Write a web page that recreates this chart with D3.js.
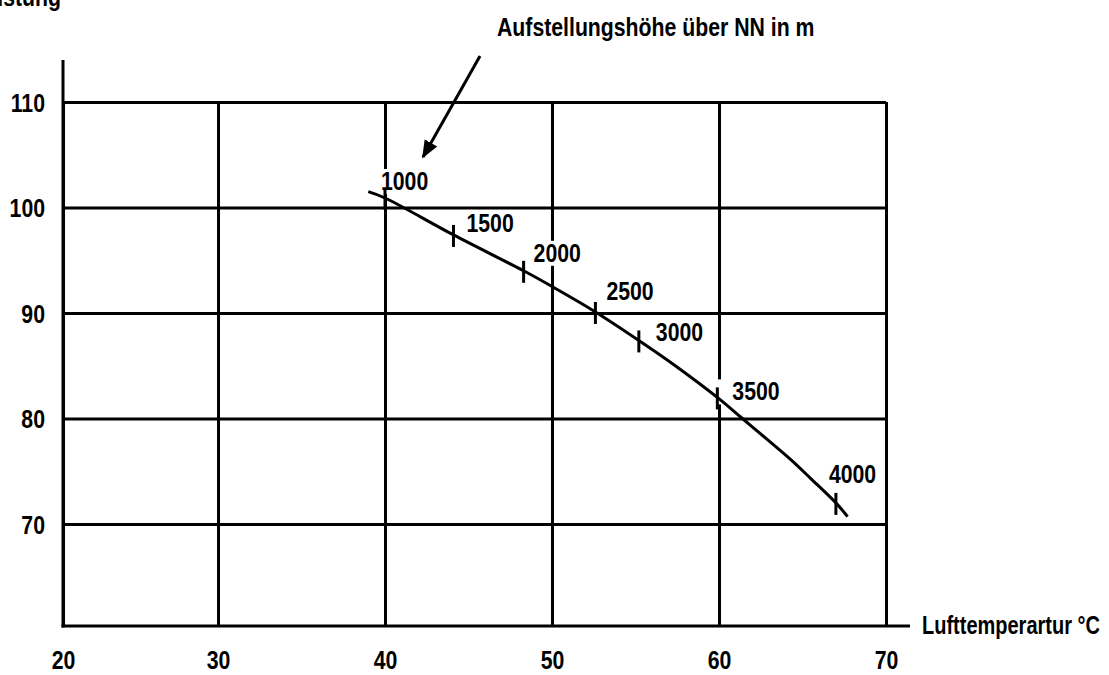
<!DOCTYPE html>
<html>
<head>
<meta charset="utf-8">
<script src="https://cdn.jsdelivr.net/npm/d3@7"></script>
<style>
  body { margin: 0; background: #fff; }
  svg { display: block; }
  text { font-family: 'Liberation Sans', Arial, sans-serif; font-size: 25px; font-weight: bold; fill: #000; }
</style>
</head>
<body>
<div id="chart"></div>
<script>
// Leistung (%) over Lufttemperatur (°C), markers for Aufstellungshöhe
var tempTicks = [20, 30, 40, 50, 60, 70];
var leistungTicks = [70, 80, 90, 100, 110];

var curveTemp = [39.0, 40.0, 44.1, 48.3, 49.9, 52.6, 55.2, 57.3, 59.9, 61.4, 62.9, 64.3, 65.5, 67.0, 67.7];
var curveLeistung = [101.5, 100.9, 97.4, 94.0, 92.6, 90.1, 87.4, 85.1, 82.0, 80.0, 78.0, 76.1, 74.3, 72.0, 70.7];

var altitudes = [1000, 1500, 2000, 2500, 3000, 3500, 4000];
var altTemp = [40.0, 44.1, 48.3, 52.6, 55.2, 59.9, 67.0];
var altLeistung = [100.9, 97.4, 94.0, 90.1, 87.4, 82.0, 72.0];

var width = 1109, height = 675;
var plotLeft = 63, plotBottom = 626, plotTop = 102, axisTop = 60, axisRight = 910;
var lw = 3;
var narrow = 0.85; // no condensed font installed, squeeze Liberation Sans instead

// label placement relative to each marker
var labelDx = [-4, 13, 10, 11, 17, 15, -7];
var labelDy = [-8, -3, -9, -12, 1, 3, -20];

var x = d3.scaleLinear().domain([20, 30, 70]).range([plotLeft, 218, 886]);
var y = d3.scaleLinear().domain([60, 70, 110]).range([plotBottom, 524, plotTop]);

var svg = d3.select('#chart').append('svg')
	.attr('width', width)
	.attr('height', height);

// move x/y into a transform so the glyphs can be squeezed around their anchor
var condense = function (sel, k) {
	k = k || narrow;
	sel.each(function () {
		var t = d3.select(this);
		var tx = +t.attr('x') || 0, ty = +t.attr('y') || 0;
		t.attr('x', 0).attr('y', 0)
			.attr('transform', 'translate(' + tx + ',' + ty + ') scale(' + k + ',1)');
	});
};

// vertical grid + bottom tick labels
var xAxis = svg.append('g')
	.attr('transform', 'translate(0,' + plotBottom + ')')
	.call(d3.axisBottom(x)
		.tickValues(tempTicks)
		.tickFormat(d3.format('d'))
		.tickSize(-(plotBottom - plotTop))
		.tickPadding(25));
xAxis.select('.domain').remove();
xAxis.selectAll('.tick line').attr('stroke', '#000').attr('stroke-width', lw);
xAxis.selectAll('.tick text').attr('font-size', null).attr('font-family', null).call(condense);

// horizontal grid + left tick labels
var yAxis = svg.append('g')
	.attr('transform', 'translate(' + plotLeft + ',0)')
	.call(d3.axisLeft(y)
		.tickValues(leistungTicks)
		.tickSize(-(x(70) - plotLeft))
		.tickPadding(18));
yAxis.select('.domain').remove();
yAxis.selectAll('.tick line').attr('stroke', '#000').attr('stroke-width', lw);
yAxis.selectAll('.tick text').attr('font-size', null).attr('font-family', null).attr('dy', '0.36em').call(condense);

// axis lines
svg.append('line')
	.attr('x1', plotLeft).attr('y1', axisTop)
	.attr('x2', plotLeft).attr('y2', plotBottom + lw / 2)
	.attr('stroke', '#000').attr('stroke-width', lw);
svg.append('line')
	.attr('x1', plotLeft - lw / 2).attr('y1', plotBottom)
	.attr('x2', axisRight).attr('y2', plotBottom)
	.attr('stroke', '#000').attr('stroke-width', lw);

// marker labels (white box behind them cuts the grid)
var markers = altitudes.map(function (a, i) {
	return {alt: a, t: altTemp[i], v: altLeistung[i], dx: labelDx[i], dy: labelDy[i]};
});

var bgLayer = svg.append('g');
var curveLayer = svg.append('g');
var labelLayer = svg.append('g');

var labels = labelLayer.selectAll('text.alt')
	.data(markers)
	.enter().append('text')
	.classed('alt', true)
	.attr('x', function (d) { return x(d.t) + d.dx; })
	.attr('y', function (d) { return y(d.v) + d.dy; })
	.text(function (d) { return d.alt; })
	.call(condense);

labels.each(function (d) {
	var b = this.getBBox();
	var bx = x(d.t) + d.dx, by = y(d.v) + d.dy;
	bgLayer.append('rect')
		.attr('x', bx - 18)
		.attr('y', by - 21)
		.attr('width', b.width * narrow + 22)
		.attr('height', 25)
		.attr('fill', '#fff');
});

// curve
var line = d3.line()
	.x(function (d) { return x(d[0]); })
	.y(function (d) { return y(d[1]); })
	.curve(d3.curveCatmullRom.alpha(0.5));

curveLayer.append('path')
	.datum(curveTemp.map(function (t, i) { return [t, curveLeistung[i]]; }))
	.attr('d', line)
	.attr('fill', 'none')
	.attr('stroke', '#000')
	.attr('stroke-width', lw);

curveLayer.selectAll('line.mark')
	.data(markers)
	.enter().append('line')
	.classed('mark', true)
	.attr('x1', function (d) { return x(d.t); })
	.attr('x2', function (d) { return x(d.t); })
	.attr('y1', function (d) { return y(d.v) - 10; })
	.attr('y2', function (d) { return y(d.v) + 12; })
	.attr('stroke', '#000')
	.attr('stroke-width', lw);

// titles
svg.append('text')
	.attr('x', 61)
	.attr('y', 6)
	.attr('text-anchor', 'end')
	.text('Leistung')
	.call(condense);

svg.append('text')
	.attr('x', 922)
	.attr('y', 634)
	.text('Lufttemperartur °C')
	.call(condense, 0.8);

svg.append('text')
	.attr('x', 497)
	.attr('y', 36)
	.text('Aufstellungshöhe über NN in m')
	.call(condense);

// arrow to the altitude markers
svg.append('defs').append('marker')
	.attr('id', 'head')
	.attr('viewBox', '0 0 10 10')
	.attr('refX', 9).attr('refY', 5)
	.attr('markerWidth', 6).attr('markerHeight', 6)
	.attr('markerUnits', 'strokeWidth')
	.attr('orient', 'auto')
	.append('path')
	.attr('d', 'M0,1 L10,5 L0,9 z')
	.attr('fill', '#000');

svg.append('line')
	.attr('x1', 480).attr('y1', 56)
	.attr('x2', 423).attr('y2', 157)
	.attr('stroke', '#000')
	.attr('stroke-width', lw)
	.attr('marker-end', 'url(#head)');
</script>
</body>
</html>
